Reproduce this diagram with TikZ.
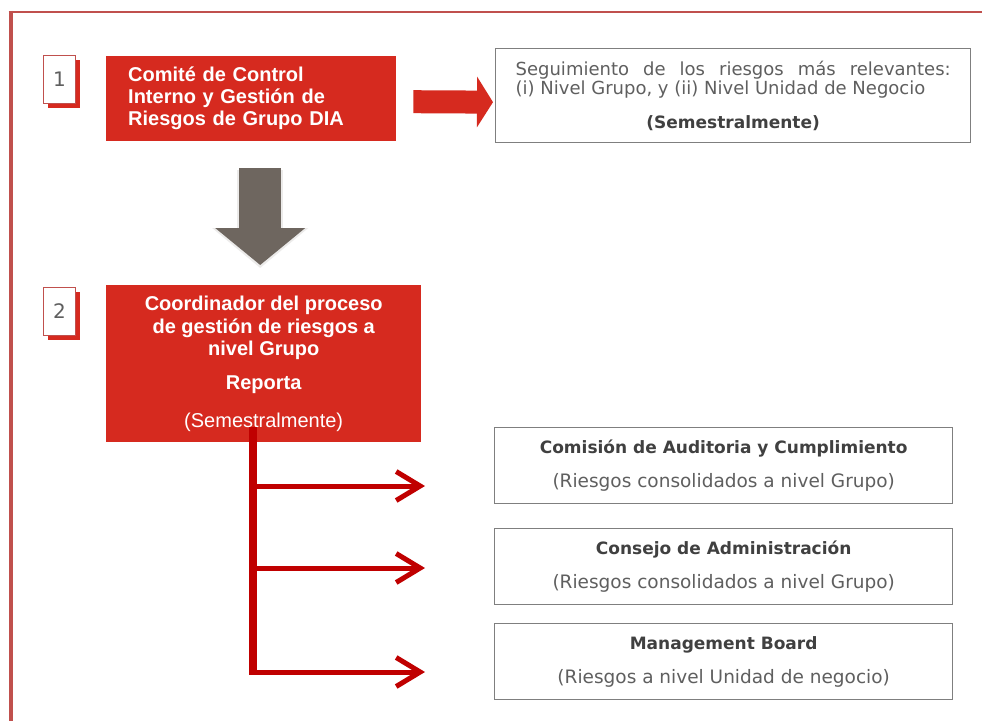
\documentclass[tikz,border=0pt]{standalone}
\usepackage{fontspec}
\setmainfont{Liberation Sans}
\newfontfamily\dvs{DejaVu Sans}
\usetikzlibrary{arrows.meta,calc,shadows}
\definecolor{boxred}{HTML}{D62A1F}
\definecolor{linered}{HTML}{C00000}
\definecolor{framered}{HTML}{C0504D}
\definecolor{arrgrey}{HTML}{6E665F}
\definecolor{txtgrey}{HTML}{5F5F5F}
\definecolor{txtdark}{HTML}{404040}
\definecolor{boxgrey}{HTML}{7F7F7F}
\begin{document}
\begin{tikzpicture}[x=1pt,y=-1pt,
  redbox/.style={fill=boxred, text=white, inner sep=0pt},
  greybox/.style={draw=boxgrey, line width=1.3pt, fill=white, inner sep=0pt, text=txtgrey},
  resbox/.style={greybox, anchor=north west, minimum width=458pt, minimum height=76pt, align=center,
    font=\dvs\fontsize{18.5}{20}\selectfont},
  numbox/.style={draw=framered, line width=0.8pt, fill=white, minimum width=32pt, minimum height=48pt,
    inner sep=0pt, text=txtgrey, font=\dvs\fontsize{20}{20}\selectfont, anchor=north west,
    drop shadow={shadow xshift=5pt, shadow yshift=-5pt, fill=boxred, opacity=1}},
  busarrow/.style={linered, line width=5pt, -{Straight Barb[length=24pt,width=29pt]}}]
\useasboundingbox (0,0) rectangle (982,721);
\fill[white] (0,0) rectangle (982,721);
% frame
\draw[framered, line width=2.5pt] (8.5,12) -- (982,12);
\draw[framered, line width=4pt] (10.5,10.75) -- (10.5,721);

% step numbers
\node[numbox] (n1) at (43,55) {1};
\node[numbox] (n2) at (43,287) {2};

% red boxes
\node[redbox, anchor=north west, minimum width=290pt, minimum height=85pt, text width=246pt, align=left,
  font=\fontsize{20}{22}\selectfont\bfseries] (c1) at (106,56)
  {Comité de Control\\Interno y Gestión de\\Riesgos de Grupo DIA};
\node[redbox, anchor=north west, minimum width=315pt, minimum height=157pt, align=center,
  font=\fontsize{20}{22.5}\selectfont\bfseries] (c2) at (106,285)
  {Coordinador del proceso\\de gestión de riesgos a\\nivel Grupo\\[11.5pt]Reporta\\[15pt]{\mdseries(Semestralmente)}};

% top right box
\node[greybox, anchor=north west, minimum width=475pt, minimum height=94pt, text width=435pt, align=justify,
  font=\dvs\fontsize{18}{19}\selectfont] (seg) at (495,48)
  {Seguimiento de los riesgos más relevantes:\linebreak (i) Nivel Grupo, y (ii) Nivel Unidad de Negocio\\[15pt]
   \makebox[\linewidth][c]{\fontsize{17}{17}\selectfont\bfseries\color{txtdark}(Semestralmente)}};

% bottom boxes
\node[resbox] (r1) at (494,427)
  {{\fontsize{17}{17}\selectfont\bfseries\color{txtdark}Comisión de Auditoria y Cumplimiento}\\[14pt](Riesgos consolidados a nivel Grupo)};
\node[resbox] (r2) at (494,527.5)
  {{\fontsize{17}{17}\selectfont\bfseries\color{txtdark}Consejo de Administración}\\[14pt](Riesgos consolidados a nivel Grupo)};
\node[resbox] (r3) at (494,623)
  {{\fontsize{17}{17}\selectfont\bfseries\color{txtdark}Management Board}\\[14pt](Riesgos a nivel Unidad de negocio)};

% arrows between top boxes
\draw[boxred, line width=23pt, -{Triangle[length=16pt,width=50pt]}]
  ($(c1.east)+(17,3)$) -- ($(seg.west)+(-2,6.5)$);
\coordinate (gs) at ($(c1.south)+(9,27)$);
\coordinate (ge) at ($(c2.north)+(-3.5,-20)$);
\draw[arrgrey!25, line width=46pt, -{Triangle[length=40pt,width=94pt]}, opacity=0.5] ($(gs)+(0,2)$) -- ($(ge)+(0,3)$);
\draw[arrgrey, line width=42pt, -{Triangle[length=37pt,width=88pt]}] (gs) -- (ge);

% reporting bus
\coordinate (bustop) at ($(c2.south west)+(147,-15)$);
\coordinate (t1) at (425,486);
\coordinate (t2) at (425,568);
\coordinate (t3) at (425,672);
\draw[linered, line width=8pt] (bustop) -- ($(bustop |- t3)+(0,2.5)$);
\draw[busarrow] ($(bustop |- t1)+(-4,0)$) -- (t1);
\draw[busarrow] ($(bustop |- t2)+(-4,0)$) -- (t2);
\draw[busarrow] ($(bustop |- t3)+(-4,0)$) -- (t3);
\end{tikzpicture}
\end{document}
